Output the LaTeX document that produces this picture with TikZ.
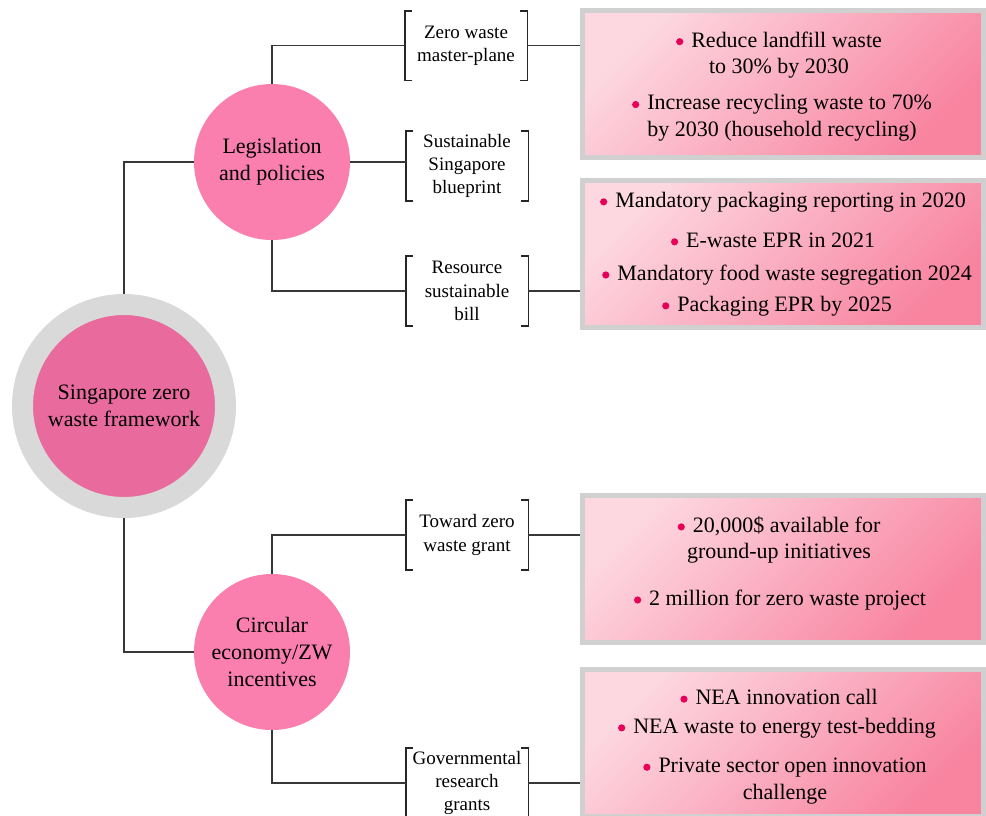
\documentclass[tikz,border=0pt]{standalone}
\usepackage{fontspec}
\setmainfont{Liberation Serif}

\definecolor{ringgrey}{RGB}{217,217,217}
\definecolor{mainpink}{RGB}{233,106,156}
\definecolor{subpink}{RGB}{250,126,174}
\definecolor{boxgrey}{RGB}{208,208,208}
\definecolor{boxlight}{RGB}{253,216,225}
\definecolor{boxdark}{RGB}{248,132,160}
\definecolor{bulletpink}{RGB}{232,0,88}
\definecolor{linegrey}{RGB}{55,55,55}

\newcommand{\itembul}{\tikz[baseline]{\fill[bulletpink] (0,2.7pt) circle (1.8pt);}\hspace{4pt}}

\begin{document}
\begin{tikzpicture}[x=0.5pt,y=-0.5pt,
  conn/.style={draw=linegrey,line width=0.6pt},
  brak/.style={draw=black!85,line width=0.9pt},
  hub/.style={circle,fill=mainpink,draw=ringgrey,line width=10.5pt,
    minimum size=101.5pt,inner sep=0pt,align=center,
    font=\fontsize{11}{13.5}\selectfont},
  pillar/.style={circle,fill=subpink,minimum size=78pt,inner sep=0pt,
    align=center,font=\fontsize{11}{13.5}\selectfont},
  bracketed/.style={minimum width=61pt,minimum height=34.5pt,inner sep=0pt,
    align=center,font=\fontsize{9.5}{11.7}\selectfont},
  panel/.style={draw=boxgrey,line width=2.5pt,top color=boxlight,
    bottom color=boxdark,shading angle=45,minimum width=200.5pt,
    minimum height=73.5pt,inner sep=0pt},
  point/.style={align=center,inner sep=0pt,font=\fontsize{11}{13.3}\selectfont}]
\useasboundingbox (0,0) rectangle (986,815);
\clip (0,0) rectangle (986,815);

% centre and the two pillars
\node[hub] (main) at (124,406) {Singapore zero\\waste framework};
\node[pillar] (leg) at (272,162) {Legislation\\and policies};
\node[pillar] (circ) at (272,652) {Circular\\economy/ZW\\incentives};

% bracketed instruments
\node[bracketed] (zw)  at (466,45.5) {Zero waste\\master-plane};
\node[bracketed] (ssb) at (467,166)  {Sustainable\\Singapore\\blueprint};
\node[bracketed] (rsb) at (467,291)  {Resource\\sustainable\\bill};
\node[bracketed] (tzw) at (467,535)  {Toward zero\\waste grant};
\node[bracketed] (grg) at (467,783)  {Governmental\\research\\grants};
\foreach \b in {zw,ssb,rsb,tzw,grg} {
  \draw[brak] ([xshift=3.5pt]\b.north west) -| (\b.south west) -- ++(3.5pt,0);
  \draw[brak] ([xshift=-3.5pt]\b.north east) -| (\b.south east) -- ++(-3.5pt,0);
}

% pink panels
\node[panel] (box1) at (783,84) {};
\node[panel] (box2) at (783,254) {};
\node[panel] (box3) at (783,568.5) {};
\node[panel] (box4) at (783,743) {};

\node[point] (b1a) at (779,55)  {\itembul Reduce landfill waste\\to 30\% by 2030};
\node[point] (b1b) at (782,118) {\itembul Increase recycling waste to 70\%\\by 2030 (household recycling)};
\node[point] (b2a) at (783,202) {\itembul Mandatory packaging reporting in 2020};
\node[point] (b2b) at (773,240) {\itembul E-waste EPR in 2021};
\node[point] (b2c) at (787,275) {\itembul Mandatory food waste segregation 2024};
\node[point] (b2d) at (777,306) {\itembul Packaging EPR by 2025};
\node[point] (b3a) at (779,540) {\itembul 20,000\$ available for\\ground-up initiatives};
\node[point] (b3b) at (780,600) {\itembul 2 million for zero waste project};
\node[point] (b4a) at (779,697) {\itembul NEA innovation call};
\node[point] (b4b) at (777,728) {\itembul NEA waste to energy test-bedding};
\node[point] (b4c) at (785,781) {\itembul Private sector open innovation\\challenge};

% connectors
\draw[conn]
  (main.north) |- (leg.west)
  (main.south) |- (circ.west)
  (leg.north) |- (zw.west)
  (leg.east) -- (leg.east -| ssb.west)
  (leg.south) |- (rsb.west)
  (circ.north) |- (tzw.west)
  (circ.south) |- (grg.west)
  (zw.east) -- (zw.east -| box1.west)
  (rsb.east) -- (rsb.east -| box2.west)
  (tzw.east) -- (tzw.east -| box3.west)
  (grg.east) -- (grg.east -| box4.west)
;
\end{tikzpicture}
\end{document}
